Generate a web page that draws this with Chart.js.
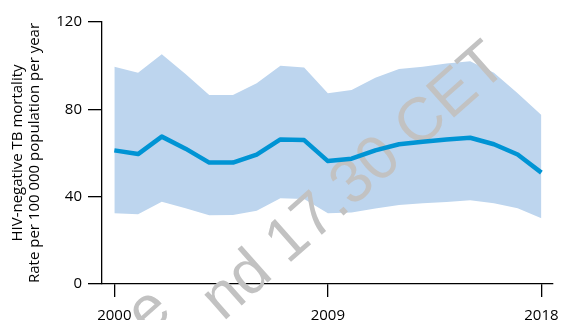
<!DOCTYPE html>
<html>
<head>
<meta charset="utf-8">
<script src="https://cdn.jsdelivr.net/npm/chart.js@4"></script>
<style>
  html, body { margin: 0; padding: 0; background: #fff; }
  #wrap { width: 562px; height: 320px; }
</style>
</head>
<body>
<div id="wrap"><canvas id="chart_tb" width="562" height="320"></canvas></div>
<script>
// DATA
const years = [2000, 2001, 2002, 2003, 2004, 2005, 2006, 2007, 2008, 2009,
               2010, 2011, 2012, 2013, 2014, 2015, 2016, 2017, 2018];
const rate  = [61.2, 59.5, 67.5, 62.0, 55.6, 55.6, 59.3, 66.2, 65.9, 56.3,
               57.4, 61.2, 64.0, 65.2, 66.2, 67.0, 64.0, 59.3, 51.0];
const upper = [99.5, 96.8, 105.2, 96.2, 86.6, 86.6, 91.9, 100.0, 99.2, 87.4,
               88.9, 94.5, 98.5, 99.5, 101.0, 102.0, 96.8, 87.4, 77.4];
const lower = [32.4, 31.9, 37.7, 34.7, 31.5, 31.6, 33.6, 39.3, 38.9, 32.4,
               32.7, 34.6, 36.2, 37.0, 37.6, 38.4, 37.0, 34.7, 30.1];
const xTicks = [2000, 2009, 2018];
const yTicks = [0, 40, 80, 120];
const yTitle = ['HIV-negative TB mortality', 'Rate per 100 000 population per year'];
const watermark = 'nd 17.30 CET';

function pts(arr) {
    return years.map(function(y, i) { return {x: y, y: arr[i]}; });
}

const FONT = "'Open Sans', 'Noto Sans', sans-serif";

// grey watermark, drawn over band/axes but under the rate line
function drawStamp(c, txt, x, y) {
    c.save();
    c.fillStyle = '#c2c2c2';
    c.font = '62px "Liberation Sans", Arial, sans-serif';
    c.textBaseline = 'alphabetic';
    c.textAlign = 'left';
    c.translate(x, y);
    c.rotate(-41.5 * Math.PI / 180);
    c.fillText(txt, 0, 0);
    c.restore();
}
const stampPlugin = {
    id: 'stamp',
    beforeDatasetDraw: function(chart, args) {
        if (args.index !== 0) return;
        drawStamp(chart.ctx, watermark, 223, 322);
        drawStamp(chart.ctx, 'e', 148, 336);
    }
};

const ctx_tb = document.getElementById('chart_tb');

const chart_tb = new Chart(ctx_tb, {
type: 'line',
data: {
datasets: [{
    label: 'rate',
    data: pts(rate),
    borderColor: '#0094d4',
    borderWidth: 4.5,
    pointRadius: 0,
    fill: false,
    tension: 0,
    order: 0,
    borderJoinStyle: 'round'
}, {
    label: 'upper',
    data: pts(upper),
    borderWidth: 0,
    borderColor: 'rgba(0,0,0,0)',
    backgroundColor: '#bdd5ee',
    pointRadius: 0,
    fill: '+1',
    order: 1
}, {
    label: 'lower',
    data: pts(lower),
    borderWidth: 0,
    borderColor: 'rgba(0,0,0,0)',
    pointRadius: 0,
    fill: false,
    order: 2
}]
},
options: {
  responsive: false,
  animation: false,
  devicePixelRatio: 1,
  layout: { padding: { top: 22, left: 0, right: 9, bottom: 0 } },
  scales: {
    x: {
      type: 'linear',
      min: 1999.48,
      max: 2018.49,
      afterBuildTicks: function(s) { s.ticks = xTicks.map(function(v) { return {value: v}; }); },
      afterFit: function(s) { s.height = 36; s.paddingRight = 0; s.paddingLeft = 0; },
      border: { color: '#000', width: 1.3 },
      grid: { drawOnChartArea: false, tickLength: 13, color: '#000', lineWidth: 1.3 },
      ticks: { color: '#000', padding: 10, maxRotation: 0, font: { family: FONT, size: 15, lineHeight: 1.2 },
               callback: function(v) { return String(v); } }
    },
    y: {
      min: 0,
      max: 120,
      afterBuildTicks: function(s) { s.ticks = yTicks.map(function(v) { return {value: v}; }); },
      afterFit: function(s) { s.width = 102; },
      border: { color: '#000', width: 1.3 },
      grid: { drawOnChartArea: false, tickLength: 14, color: '#000', lineWidth: 1.3 },
      ticks: { color: '#000', padding: 6, font: { family: FONT, size: 15 } },
      title: { display: true, text: yTitle, color: '#000', padding: { top: 9, bottom: 0 },
               font: { family: FONT, size: 15, lineHeight: 1.15 } }
    }
  },
  plugins: {
    legend: { display: false },
    tooltip: { enabled: false }
  }
},
plugins: [stampPlugin]
});
</script>
</body>
</html>
